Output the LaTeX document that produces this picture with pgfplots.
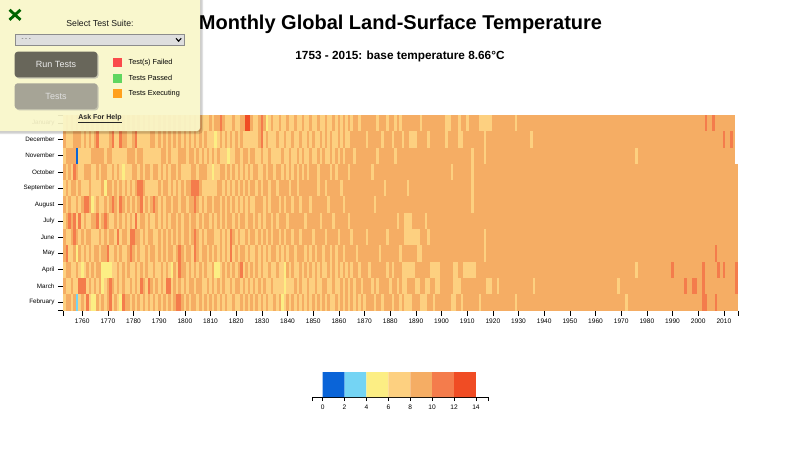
\documentclass[border=0pt]{standalone}
\usepackage{pgfplots}
\pgfplotsset{compat=1.18}
\usepackage{pgfplotstable}
\usepackage{fontspec}
\setmainfont{Liberation Sans}

\definecolor{c0}{RGB}{10,100,216}
\definecolor{c1}{RGB}{116,212,244}
\definecolor{c2}{RGB}{252,238,132}
\definecolor{c3}{RGB}{253,208,128}
\definecolor{c4}{RGB}{245,173,100}
\definecolor{c5}{RGB}{244,124,76}
\definecolor{c6}{RGB}{240,76,36}
\definecolor{panelc}{RGB}{255,252,206}
\definecolor{btndark}{RGB}{104,102,90}
\definecolor{btnlight}{RGB}{166,164,150}
\definecolor{xgreen}{RGB}{0,100,0}
\definecolor{tfail}{RGB}{250,75,75}
\definecolor{tpass}{RGB}{96,214,96}
\definecolor{texec}{RGB}{255,160,30}

\pgfdeclareplotmark{cell}{\pgfpathrectangle{\pgfqpoint{-1.285pt}{-8.16pt}}{\pgfqpoint{2.57pt}{16.32pt}}\pgfusepathqfill}

\pgfplotsset{cellplot/.style={scatter, only marks, mark=cell, point meta=explicit,
  scatter/@pre marker code/.code={%
    \pgfmathtruncatemacro\cbin{\pgfplotspointmetatransformed*7/1000}%
    \ifcase\cbin\def\cc{c0}\or\def\cc{c1}\or\def\cc{c2}\or\def\cc{c3}\or\def\cc{c4}\or\def\cc{c5}\else\def\cc{c6}\fi
    \begin{pgfscope}\pgfsetfillcolor{\cc}},
  scatter/@post marker code/.code={\end{pgfscope}}}}

% temperature (deg C) per year; columns in the order of the rows, top to bottom
\pgfplotstableread{
year Jan Dec Nov Oct Sep Aug Jul Jun May Apr Mar Feb
1753 7 9 7 9 7 9 7 9 9 7 9 7
1754 9 7 9 7 9 7 9 7 11 9 7 9
1755 7 7 9 9 7 9 11 7 7 9 7 9
1756 9 7 9 7 9 7 9 9 7 7 9 7
1757 7 9 9 11 9 7 11 11 9 7 7 9
1758 9 9 1 9 7 9 7 9 5 9 7 3
1759 7 9 7 7 9 7 11 7 9 7 11 7
1760 9 7 7 7 7 9 7 9 7 5 11 9
1761 7 9 7 9 7 11 9 7 9 7 11 7
1762 9 7 7 9 7 11 7 9 7 9 7 11
1763 7 9 7 9 9 9 7 9 9 7 9 7
1764 9 7 9 7 7 5 9 7 7 9 7 5
1765 7 9 9 7 7 7 9 7 9 7 9 5
1766 9 11 9 9 7 9 11 7 9 9 7 9
1767 7 7 9 7 7 7 7 9 7 9 9 7
1768 9 7 9 9 9 7 9 7 9 5 5 9
1769 7 7 7 9 5 9 11 9 9 5 7 7
1770 9 7 9 7 9 7 9 7 11 5 9 9
1771 7 9 9 7 9 9 7 9 7 5 11 11
1772 9 11 7 9 7 11 7 9 7 7 9 7
1773 7 7 7 7 9 9 9 7 9 7 7 9
1774 9 7 7 9 7 7 7 11 7 9 9 7
1775 7 11 7 7 9 11 9 7 9 7 7 5
1776 9 9 7 5 7 9 7 9 7 9 9 11
1777 7 9 7 7 9 7 9 9 7 7 7 9
1778 9 7 9 7 7 9 7 7 9 9 7 9
1779 7 7 9 7 9 7 9 11 11 7 9 7
1780 9 9 9 9 7 9 7 11 9 7 7 9
1781 7 11 7 9 9 7 11 9 7 9 9 7
1782 9 7 9 7 11 9 7 9 9 7 7 9
1783 7 7 9 9 11 11 9 7 7 9 11 7
1784 9 7 7 7 9 7 9 9 7 7 9 9
1785 7 7 7 9 7 9 7 7 9 9 7 7
1786 9 7 7 9 7 7 9 9 7 7 11 9
1787 7 9 7 7 7 9 7 9 9 7 9 7
1788 9 9 7 9 7 11 7 7 9 9 7 9
1789 7 7 7 9 7 9 9 7 7 7 9 7
1790 9 9 7 7 9 7 7 9 9 7 7 9
1791 7 7 9 9 7 9 9 7 7 9 9 7
1792 9 9 9 7 9 7 7 9 9 7 7 9
1793 7 7 7 9 9 9 9 7 7 9 11 7
1794 9 9 9 7 7 9 7 9 9 7 11 9
1795 7 7 7 9 9 7 9 7 9 5 7 7
1796 9 9 7 9 7 9 9 9 7 9 9 9
1797 7 7 7 7 9 9 7 7 9 7 7 11
1798 9 9 9 9 7 7 9 9 11 11 9 11
1799 7 7 9 7 9 9 7 7 9 9 7 9
1800 9 9 9 7 7 9 9 9 7 9 9 7
1801 7 7 7 7 9 7 9 9 9 7 7 9
1802 9 9 9 7 9 9 7 7 9 9 9 7
1803 7 7 9 9 11 9 9 9 7 7 9 9
1804 9 9 7 9 11 11 9 11 11 9 7 9
1805 7 7 9 7 11 9 7 9 9 7 9 7
1806 9 9 7 9 9 7 9 7 7 9 9 9
1807 7 7 9 9 7 9 7 9 9 7 7 7
1808 7 9 7 9 7 7 9 7 9 9 7 9
1809 7 7 9 7 7 9 9 9 7 7 9 7
1810 9 7 7 7 7 9 7 9 9 7 7 9
1811 7 7 9 5 7 7 9 9 7 9 9 7
1812 9 5 7 7 7 9 7 7 9 5 7 9
1813 9 7 9 7 9 9 9 7 7 5 9 7
1814 11 9 7 9 9 7 7 9 9 7 7 9
1815 9 7 7 9 7 9 9 7 7 9 9 7
1816 7 9 7 7 9 7 7 9 9 7 7 9
1817 7 7 5 9 7 9 9 7 7 9 7 7
1818 7 9 7 7 9 7 9 11 11 7 9 7
1819 9 7 7 9 7 9 7 9 7 9 7 9
1820 7 9 9 7 9 7 9 7 9 7 9 7
1821 7 7 9 9 7 9 7 9 7 9 9 7
1822 9 9 7 7 9 7 9 7 9 11 7 9
1823 9 7 9 9 7 9 9 7 9 7 9 7
1824 13 7 9 7 9 7 7 9 7 9 7 9
1825 13 7 7 9 7 9 9 7 9 7 9 7
1826 9 7 9 7 9 7 9 9 7 9 7 9
1827 7 7 9 9 9 7 7 9 7 7 9 7
1828 7 7 7 9 7 9 9 7 9 9 7 9
1829 9 9 7 7 9 9 7 9 7 7 9 7
1830 11 11 9 7 7 9 9 7 9 9 7 9
1831 9 7 7 9 9 7 7 9 7 7 9 7
1832 5 9 7 7 9 9 9 7 9 7 7 9
1833 7 7 9 9 7 7 9 9 7 9 7 7
1834 9 7 7 9 9 9 7 7 9 7 9 7
1835 7 7 7 7 9 9 9 9 9 7 7 9
1836 7 9 7 9 7 9 7 9 7 9 7 7
1837 9 7 7 9 9 7 9 7 9 7 7 9
1838 7 7 9 7 9 9 9 9 7 7 7 5
1839 7 9 7 9 9 7 9 7 9 5 5 7
1840 9 7 7 7 9 9 7 9 7 9 7 9
1841 7 7 9 9 7 9 9 9 9 7 7 7
1842 7 9 7 7 9 7 9 7 9 9 7 9
1843 9 7 7 9 9 9 9 9 7 7 9 7
1844 7 7 9 7 7 9 9 9 9 7 7 9
1845 7 9 7 9 9 7 9 7 9 9 9 7
1846 9 7 9 7 9 9 9 9 9 7 7 9
1847 7 7 7 9 9 9 7 9 7 9 7 7
1848 7 9 7 7 9 9 9 9 9 7 9 9
1849 9 7 9 9 9 7 9 9 7 9 7 7
1850 7 9 7 9 9 9 9 7 9 7 7 9
1851 7 7 7 9 9 9 9 9 7 9 9 7
1852 9 7 9 7 7 9 9 9 9 7 7 9
1853 7 9 7 9 9 9 7 9 9 9 7 7
1854 7 7 9 9 9 9 9 9 7 7 9 9
1855 9 9 7 9 7 9 9 7 9 7 9 7
1856 7 7 7 9 9 7 9 9 9 9 7 9
1857 7 9 9 7 9 9 9 9 7 7 7 7
1858 9 7 7 9 9 9 7 9 9 9 9 7
1859 7 7 9 7 9 9 9 9 7 7 7 9
1860 9 9 7 9 9 9 9 7 9 9 7 7
1861 7 7 9 9 7 9 9 9 9 7 9 9
1862 9 9 7 9 9 7 9 9 7 9 7 7
1863 7 7 9 9 9 9 9 9 9 7 9 9
1864 9 7 9 7 9 9 7 9 9 9 7 7
1865 7 9 9 9 9 9 9 7 9 7 9 9
1866 9 9 7 9 9 9 9 9 9 9 7 7
1867 9 9 9 9 9 9 9 9 7 9 9 9
1868 7 9 9 9 9 9 9 9 9 7 9 7
1869 9 9 9 9 9 9 9 9 9 9 7 9
1870 9 9 9 9 9 9 9 9 9 9 9 7
1871 9 7 9 9 9 9 9 7 9 9 9 9
1872 9 9 9 9 9 9 9 9 9 7 9 9
1873 9 9 9 7 9 9 9 9 9 9 7 9
1874 9 9 9 9 9 7 9 9 9 9 9 7
1875 7 9 7 9 9 9 9 9 9 9 7 9
1876 9 9 9 9 9 9 9 9 7 9 9 9
1877 9 7 9 9 9 9 9 9 9 9 9 7
1878 9 9 9 9 7 9 9 9 9 9 9 9
1879 7 9 9 9 9 9 9 7 9 7 9 9
1880 9 9 9 9 9 9 9 9 9 9 7 9
1881 9 7 9 9 9 9 9 9 9 7 9 7
1882 7 9 7 9 9 9 9 9 9 9 9 9
1883 9 9 9 9 9 9 7 9 9 9 7 9
1884 7 9 9 9 9 9 9 9 7 9 9 7
1885 9 7 9 9 9 9 9 9 9 7 7 9
1886 9 9 9 9 9 9 7 7 9 7 7 7
1887 9 9 9 9 7 9 7 7 9 7 9 7
1888 9 7 9 9 9 9 7 7 9 7 9 7
1889 9 7 9 9 9 9 9 7 9 7 9 9
1890 9 7 9 9 9 9 9 7 9 9 7 9
1891 9 9 9 9 9 9 9 7 7 9 7 9
1892 7 9 9 9 9 9 9 9 7 9 9 7
1893 9 9 9 9 9 9 9 9 9 9 9 7
1894 9 9 9 9 9 9 7 9 9 9 7 7
1895 9 7 9 9 9 9 9 7 9 9 7 9
1896 9 9 9 9 9 9 9 9 9 7 9 9
1897 9 9 9 9 9 9 9 9 9 7 9 7
1898 9 9 9 9 9 9 9 9 9 7 7 9
1899 9 9 9 9 9 9 9 9 9 7 7 9
1900 9 9 9 9 9 9 9 9 9 9 9 9
1901 9 9 9 9 9 9 9 9 9 9 9 9
1902 7 7 9 9 9 9 9 9 9 9 9 9
1903 7 9 9 9 9 9 9 9 9 9 9 9
1904 9 9 9 7 9 9 9 9 9 9 9 7
1905 9 9 9 9 9 9 9 9 9 7 7 7
1906 9 9 9 9 9 9 9 9 9 7 7 9
1907 7 7 9 9 9 9 9 9 9 9 7 9
1908 9 7 9 9 9 9 9 9 9 9 9 7
1909 9 9 9 9 9 9 9 9 9 7 9 9
1910 7 9 9 9 9 9 9 9 9 7 9 9
1911 9 9 9 9 9 9 9 9 9 7 9 9
1912 9 9 7 7 7 7 9 9 9 7 9 9
1913 9 9 9 9 9 9 9 9 9 7 9 9
1914 9 9 9 9 9 9 9 9 9 9 9 9
1915 7 9 9 9 9 9 9 9 9 9 9 7
1916 7 9 9 9 9 9 9 9 9 9 9 9
1917 7 7 7 9 9 9 9 7 7 9 9 9
1918 7 9 9 9 9 9 9 9 9 9 7 9
1919 7 9 9 9 9 9 9 9 9 9 7 9
1920 9 9 9 9 9 9 9 9 9 9 9 9
1921 9 9 9 9 9 9 9 9 9 9 9 9
1922 9 9 9 9 9 9 9 9 9 9 7 9
1923 9 9 9 9 9 9 9 9 9 9 9 9
1924 9 9 9 9 9 9 9 9 9 9 9 9
1925 9 9 9 9 9 9 9 9 9 9 9 9
1926 9 9 9 9 9 9 9 9 9 9 9 9
1927 9 9 9 9 9 9 9 9 9 9 9 9
1928 9 9 9 9 9 9 9 9 9 9 9 9
1929 7 9 9 9 9 9 9 9 9 9 9 7
1930 9 9 9 9 9 9 9 9 9 9 9 9
1931 9 9 9 9 9 9 9 9 9 9 9 9
1932 9 9 9 9 9 9 9 9 9 9 9 9
1933 9 9 9 9 9 9 9 9 9 9 9 9
1934 9 9 9 9 9 9 9 9 9 9 9 9
1935 9 7 9 9 9 9 9 9 9 9 9 9
1936 9 9 9 9 9 9 9 9 9 9 7 9
1937 9 9 9 9 9 9 9 9 9 9 9 9
1938 9 9 9 9 9 9 9 9 9 9 9 9
1939 9 9 9 9 9 9 9 9 9 9 9 9
1940 9 9 9 9 9 9 9 9 9 9 9 9
1941 9 9 9 9 9 9 9 9 9 9 9 9
1942 9 9 9 9 9 9 9 9 9 9 9 9
1943 9 9 9 9 9 9 9 9 9 9 9 9
1944 9 9 9 9 9 9 9 9 9 9 9 9
1945 9 9 9 9 9 9 9 9 9 9 9 9
1946 9 9 9 9 9 9 9 9 9 9 9 9
1947 9 9 9 9 9 9 9 9 9 9 9 9
1948 9 9 9 9 9 9 9 9 9 9 9 9
1949 9 9 9 9 9 9 9 9 9 9 9 9
1950 9 9 9 9 9 9 9 9 9 9 9 9
1951 9 9 9 9 9 9 9 9 9 9 9 9
1952 9 9 9 9 9 9 9 9 9 9 9 9
1953 9 9 9 9 9 9 9 9 9 9 9 9
1954 9 9 9 9 9 9 9 9 9 9 9 9
1955 9 9 9 9 9 9 9 9 9 9 9 9
1956 9 9 9 9 9 9 9 9 9 9 9 9
1957 9 9 9 9 9 9 9 9 9 9 9 9
1958 9 9 9 9 9 9 9 9 9 9 9 9
1959 9 9 9 9 9 9 9 9 9 9 9 9
1960 9 9 9 9 9 9 9 9 9 9 9 9
1961 9 9 9 9 9 9 9 9 9 9 9 9
1962 9 9 9 9 9 9 9 9 9 9 9 9
1963 9 9 9 9 9 9 9 9 9 9 9 9
1964 9 9 9 9 9 9 9 9 9 9 9 9
1965 9 9 9 9 9 9 9 9 9 9 9 9
1966 9 9 9 9 9 9 9 9 9 9 9 9
1967 9 9 9 9 9 9 9 9 9 9 9 9
1968 9 9 9 9 9 9 9 9 9 9 9 9
1969 9 9 9 9 9 9 9 9 9 9 7 9
1970 9 9 9 9 9 9 9 9 9 9 9 9
1971 9 9 9 9 9 9 9 9 9 9 9 9
1972 9 9 9 9 9 9 9 9 9 9 9 7
1973 9 9 9 9 9 9 9 9 9 9 9 9
1974 9 9 9 9 9 9 9 9 9 9 9 9
1975 9 9 9 9 9 9 9 9 9 9 9 9
1976 9 9 7 9 9 9 9 9 9 7 9 9
1977 9 9 9 9 9 9 9 9 9 9 9 9
1978 9 9 9 9 9 9 9 9 9 9 9 9
1979 9 9 9 9 9 9 9 9 9 9 9 9
1980 9 9 9 9 9 9 9 9 9 9 9 9
1981 9 9 9 9 9 9 9 9 9 9 9 9
1982 9 9 9 9 9 9 9 9 9 9 9 9
1983 9 9 9 9 9 9 9 9 9 9 9 9
1984 9 9 9 9 9 9 9 9 9 9 9 9
1985 9 9 9 9 9 9 9 9 9 9 9 9
1986 9 9 9 9 9 9 9 9 9 9 9 9
1987 9 9 9 9 9 9 9 9 9 9 9 9
1988 9 9 9 9 9 9 9 9 9 9 9 9
1989 9 9 9 9 9 9 9 9 9 9 9 9
1990 9 9 9 9 9 9 9 9 9 11 9 9
1991 9 9 9 9 9 9 9 9 9 9 9 9
1992 9 9 9 9 9 9 9 9 9 9 9 9
1993 9 9 9 9 9 9 9 9 9 9 9 9
1994 9 9 9 9 9 9 9 9 9 9 9 9
1995 9 9 9 9 9 9 9 9 9 9 11 9
1996 9 9 9 9 9 9 9 9 9 9 9 9
1997 9 9 9 9 9 9 9 9 9 9 9 9
1998 9 9 9 9 9 9 9 9 9 9 11 9
1999 9 9 9 9 9 9 9 9 9 9 11 9
2000 9 9 9 9 9 9 9 9 9 9 9 9
2001 9 9 9 9 9 9 9 9 9 9 9 9
2002 9 9 9 9 9 9 9 9 9 11 11 11
2003 11 9 9 9 9 9 9 9 9 9 9 11
2004 9 9 9 9 9 9 9 9 9 9 9 9
2005 9 9 9 9 9 9 9 9 9 9 9 9
2006 11 9 9 9 9 9 9 9 9 9 9 9
2007 9 9 9 9 9 9 9 9 11 9 9 11
2008 9 9 9 9 9 9 9 9 9 11 9 9
2009 9 9 9 9 9 9 9 9 9 9 9 9
2010 9 11 9 9 9 9 9 9 9 11 9 9
2011 9 9 9 9 9 9 9 9 9 9 9 9
2012 9 9 9 9 9 9 9 9 9 9 9 9
2013 9 11 9 9 9 9 9 9 9 9 9 9
2014 9 9 9 9 9 9 9 9 9 9 9 9
2015 nan nan nan 9 9 9 9 9 9 11 11 9
}\temps

\begin{document}
\begin{tikzpicture}[x=1pt,y=1pt]
\useasboundingbox (0,0) rectangle (800,-450);
\fill[white] (0,0) rectangle (800,-450);

\node[font=\fontsize{20}{24}\selectfont\bfseries] at (400.5,-24.5) {Monthly Global Land-Surface Temperature};
\node[font=\fontsize{11.8}{14}\selectfont\bfseries] at (400,-56.5) {1753 - 2015: base temperature 8.66°C};

\begin{axis}[
  at={(63pt,-310.5pt)}, anchor=south west,
  scale only axis, width=675pt, height=195.5pt,
  xmin=1752.5, xmax=2015.5, ymin=-0.5, ymax=11.5,
  axis x line*=bottom, axis y line*=left,
  y axis line style={draw=none},
  x axis line style={line width=0.8pt},
  axis on top,
  xtick={1760,1770,...,2010},
  extra x ticks={1752.5,2015.5}, extra x tick labels={},
  ytick={0,...,11},
  yticklabels={February,March,April,May,June,July,August,September,October,November,December,January},
  extra y ticks={-0.5,11.5}, extra y tick labels={},
  tick align=outside, major tick length=5pt,
  tick style={black, line width=0.7pt},
  every extra x tick/.style={tick style={black, line width=0.7pt}},
  every extra y tick/.style={tick style={black, line width=0.7pt}},
  x tick label style={font=\fontsize{6.6}{7}\selectfont, /pgf/number format/1000 sep={}},
  y tick label style={font=\fontsize{6.3}{7}\selectfont},
  /pgf/number format/assume math mode=true,
  point meta min=0, point meta max=14,
]
\addplot[cellplot, skip coords between index={262}{263}] table[x=year, y expr=11, meta=Jan] {\temps};
\addplot[cellplot, skip coords between index={262}{263}] table[x=year, y expr=10, meta=Dec] {\temps};
\addplot[cellplot, skip coords between index={262}{263}] table[x=year, y expr=9, meta=Nov] {\temps};
\addplot[cellplot] table[x=year, y expr=8, meta=Oct] {\temps};
\addplot[cellplot] table[x=year, y expr=7, meta=Sep] {\temps};
\addplot[cellplot] table[x=year, y expr=6, meta=Aug] {\temps};
\addplot[cellplot] table[x=year, y expr=5, meta=Jul] {\temps};
\addplot[cellplot] table[x=year, y expr=4, meta=Jun] {\temps};
\addplot[cellplot] table[x=year, y expr=3, meta=May] {\temps};
\addplot[cellplot] table[x=year, y expr=2, meta=Apr] {\temps};
\addplot[cellplot] table[x=year, y expr=1, meta=Mar] {\temps};
\addplot[cellplot] table[x=year, y expr=0, meta=Feb] {\temps};
\end{axis}

\begin{axis}[
  at={(312.7pt,-397pt)}, anchor=south west,
  scale only axis, width=175.3pt, height=25pt,
  xmin=-0.91, xmax=15.1, ymin=0, ymax=1,
  axis x line*=bottom, axis y line=none,
  x axis line style={line width=0.7pt},
  xtick={0,2,...,14},
  extra x ticks={-0.91,15.1}, extra x tick labels={},
  every extra x tick/.style={tick style={black, line width=0.7pt}},
  tick align=outside, major tick length=4pt,
  tick style={black, line width=0.7pt},
  x tick label style={font=\fontsize{6.6}{7}\selectfont},
  /pgf/number format/assume math mode=true,
]
\addplot[draw=none, fill=c0] coordinates {(0,0) (0,1) (2,1) (2,0) (0,0)};
\addplot[draw=none, fill=c1] coordinates {(2,0) (2,1) (4,1) (4,0) (2,0)};
\addplot[draw=none, fill=c2] coordinates {(4,0) (4,1) (6,1) (6,0) (4,0)};
\addplot[draw=none, fill=c3] coordinates {(6,0) (6,1) (8,1) (8,0) (6,0)};
\addplot[draw=none, fill=c4] coordinates {(8,0) (8,1) (10,1) (10,0) (8,0)};
\addplot[draw=none, fill=c5] coordinates {(10,0) (10,1) (12,1) (12,0) (10,0)};
\addplot[draw=none, fill=c6] coordinates {(12,0) (12,1) (14,1) (14,0) (12,0)};
\end{axis}

% test-suite panel
\fill[black, opacity=0.12, rounded corners=4pt] (-5,5) rectangle (203,-134);
\fill[black, opacity=0.10, rounded corners=4pt] (-5,5) rectangle (201.5,-132.5);
\fill[panelc, fill opacity=0.9, rounded corners=3pt] (-5,5) rectangle (200,-131);
\draw[xgreen, line width=2.8pt] (9.5,-9.8) -- (20.5,-19.8);
\draw[xgreen, line width=2.8pt] (9.5,-19.8) -- (20.5,-9.8);
\node[font=\fontsize{8.7}{10}\selectfont, text=black!90] at (100,-23.5) {Select Test Suite:};
\fill[black!35, opacity=0.5] (16,-35) rectangle (185,-46.3);
\filldraw[fill=black!13, draw=black!45, line width=0.5pt] (15.7,-34.3) rectangle (184,-45.7);
\node[font=\fontsize{6}{7}\selectfont, anchor=west, text=black!70] at (18,-40) {- - -};
\draw[line width=1.1pt] (176,-38.3) -- (178.6,-41.2) -- (181.2,-38.3);
\fill[black!40, opacity=0.5, rounded corners=3pt] (16,-53) rectangle (98.5,-78.5);
\fill[btndark, rounded corners=3pt] (14.7,-51.7) rectangle (97.3,-77.3);
\node[font=\fontsize{9}{10}\selectfont, text=white!92!black] at (56,-64.5) {Run Tests};
\fill[black!40, opacity=0.5, rounded corners=3pt] (16,-84.5) rectangle (98.5,-110.3);
\fill[btnlight, rounded corners=3pt] (14.7,-83.3) rectangle (97.3,-109);
\node[font=\fontsize{9}{10}\selectfont, text=white!88!black] at (56,-96.2) {Tests};
\fill[tfail] (113.3,-58.3) rectangle (122.3,-67.3);
\fill[tpass] (113.3,-74) rectangle (122.3,-83);
\fill[texec] (113.3,-89.3) rectangle (122.3,-98.3);
\node[font=\fontsize{7.3}{8}\selectfont, anchor=west, inner sep=0pt] at (128.5,-62.6) {Test(s) Failed};
\node[font=\fontsize{7.3}{8}\selectfont, anchor=west, inner sep=0pt] at (128.5,-78.3) {Tests Passed};
\node[font=\fontsize{7.3}{8}\selectfont, anchor=west, inner sep=0pt] at (128.5,-93.6) {Tests Executing};
\node[font=\fontsize{7}{8}\selectfont\bfseries, text=black!85] at (100,-118.3) {\underline{Ask For Help}};
\end{tikzpicture}
\end{document}
